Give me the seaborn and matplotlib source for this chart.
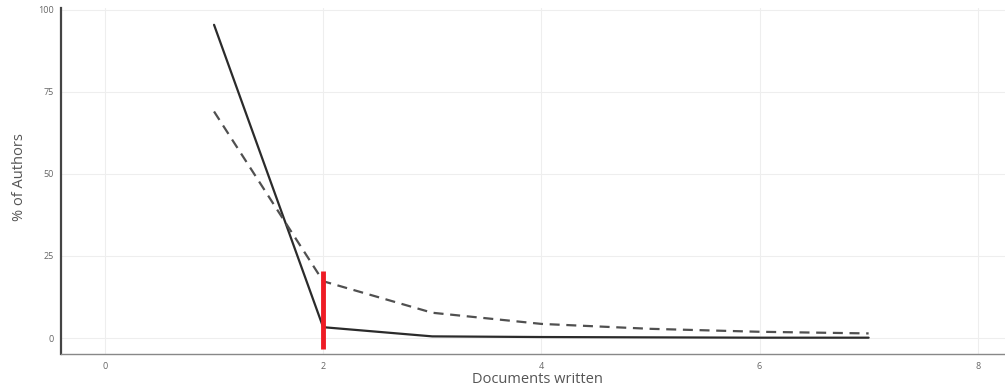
import matplotlib
matplotlib.use("Agg")
import matplotlib.pyplot as plt
import seaborn as sns
import pandas as pd

# Documents written per author and share of authors (%)
documents = [1, 2, 3, 4, 5, 6, 7]
observed = [95.4, 3.3, 0.5, 0.3, 0.2, 0.1, 0.1]
theoretical = [69.0, 17.3, 7.7, 4.3, 2.8, 1.9, 1.4]
cutoff_x = 2
cutoff_range = [-3.4, 20.3]

x_ticks = [0, 2, 4, 6, 8]
y_ticks = [0, 25, 50, 75, 100]

df = pd.DataFrame({
    "Documents written": documents * 2,
    "% of Authors": observed + theoretical,
    "series": ["Observed"] * len(documents) + ["Theoretical"] * len(documents),
})

sns.set_theme(style="white")
plt.rcParams["font.family"] = ["Open Sans", "DejaVu Sans"]

fig = plt.figure(figsize=(10.05, 3.87), dpi=100)
ax = fig.add_axes([0.061, 0.085, 0.939, 0.895])

sns.lineplot(
    data=df, x="Documents written", y="% of Authors", hue="series", style="series",
    palette={"Observed": "#2b2b2b", "Theoretical": "#505050"},
    dashes={"Observed": "", "Theoretical": (4.5, 3)},
    linewidth=1.6, legend=False, ax=ax,
)
ax.plot([cutoff_x, cutoff_x], cutoff_range, color="#ee1c25", linewidth=3.5,
        solid_capstyle="butt", zorder=5)

ax.set_xlim(-0.4, 8.25)
ax.set_ylim(-4.9, 100.6)
ax.set_xticks(x_ticks)
ax.set_yticks(y_ticks)
ax.grid(True, color="#eeeeee", linewidth=0.8)
ax.tick_params(axis="both", labelsize=6.5, colors="#777777", length=2.5,
               width=0.8, pad=3)
for lab in ax.get_xticklabels() + ax.get_yticklabels():
    lab.set_color("#666666")

for side in ["top", "right"]:
    ax.spines[side].set_visible(False)
ax.spines["left"].set_color("#444444")
ax.spines["left"].set_linewidth(1.6)
ax.spines["bottom"].set_color("#888888")
ax.spines["bottom"].set_linewidth(1.0)

ax.set_xlabel("Documents written", fontsize=10.5, color="#555555")
ax.set_ylabel("% of Authors", fontsize=10.5, color="#555555")
ax.xaxis.set_label_coords(0.505, -0.052)
ax.yaxis.set_label_coords(-0.036, 0.51)

fig.savefig("out.png", dpi=100, facecolor="white")
